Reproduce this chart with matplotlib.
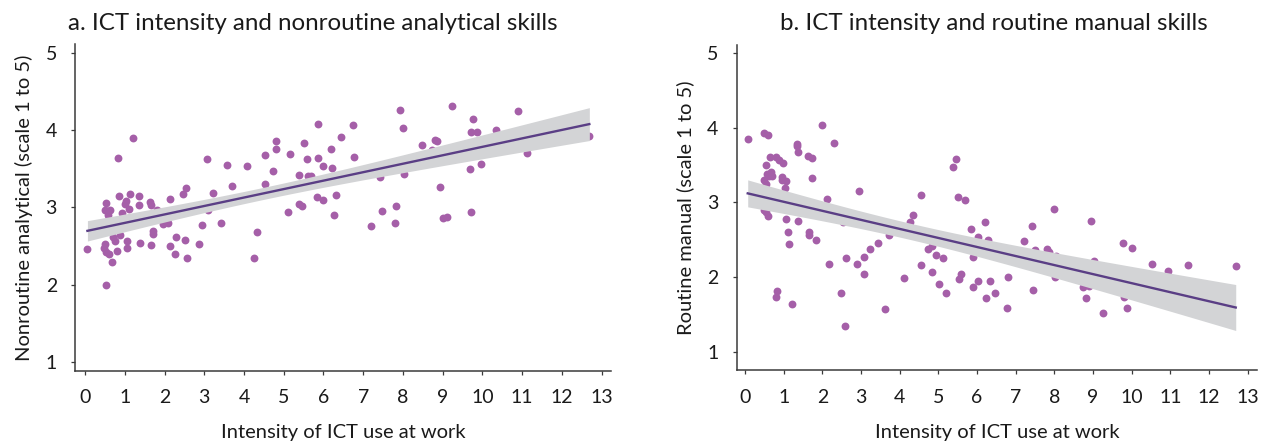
import numpy as np
import matplotlib
matplotlib.use("Agg")
import matplotlib.pyplot as plt

plt.rcParams["font.family"] = ["Lato", "DejaVu Sans"]

# Panel a: ICT intensity vs nonroutine analytical skills
ict_a = [0.06, 0.54, 0.50, 0.62, 0.57, 0.49, 0.47, 0.54, 0.60, 0.54,
         0.69, 0.70, 0.75, 0.81, 0.82, 0.85, 0.89, 0.92, 1.00, 1.03,
         1.10, 1.05, 1.06, 1.14, 1.20, 1.36, 1.36, 1.38, 1.63, 1.65,
         1.65, 1.71, 1.72, 1.81, 1.96, 2.10, 2.14, 2.14, 2.29, 2.27,
         2.46, 2.53, 2.52, 2.56, 2.86, 2.94, 3.06, 3.09, 3.22, 3.42,
         3.58, 3.70, 4.07, 4.26, 4.32, 4.53, 4.53, 4.72, 4.81, 4.81,
         5.11, 5.15, 5.38, 5.39, 5.46, 5.52, 5.58, 5.61, 5.69, 5.87,
         5.86, 5.83, 6.00, 6.00, 6.19, 6.21, 6.32, 6.26, 6.45, 6.75,
         6.78, 7.19, 7.41, 7.47, 7.80, 7.82, 7.92, 7.99, 8.02, 8.49,
         8.80, 8.86, 8.73, 8.92, 9.01, 9.10, 9.24, 9.68, 9.72, 9.72,
         9.77, 9.86, 9.96, 10.33, 10.90, 11.13, 12.69]
skill_a = [2.46, 3.05, 2.96, 2.96, 2.90, 2.52, 2.47, 2.42, 2.40, 1.99,
           2.29, 2.61, 2.56, 2.44, 3.63, 3.14, 2.64, 2.92, 3.04, 3.08,
           2.98, 2.56, 2.47, 3.17, 3.90, 3.14, 3.03, 2.54, 3.07, 3.03,
           2.51, 2.69, 2.66, 2.97, 2.78, 2.80, 3.11, 2.50, 2.61, 2.39,
           3.17, 3.25, 2.57, 2.34, 2.52, 2.77, 3.62, 2.96, 3.19, 2.79,
           3.54, 3.27, 3.53, 2.34, 2.68, 3.68, 3.30, 3.47, 3.85, 3.75,
           2.94, 3.69, 3.42, 3.04, 3.02, 3.83, 3.62, 3.40, 3.40, 4.08,
           3.63, 3.13, 3.53, 3.09, 3.75, 3.51, 3.16, 2.90, 3.91, 4.06,
           3.65, 2.76, 3.39, 2.95, 2.79, 3.02, 4.26, 4.02, 3.43, 3.80,
           3.87, 3.85, 3.74, 3.26, 2.86, 2.87, 4.31, 3.50, 3.97, 2.94,
           4.14, 3.97, 3.56, 4.00, 4.25, 3.70, 3.92]

# Panel b: ICT intensity vs routine manual skills
ict_b = [0.07, 0.50, 0.59, 0.55, 0.64, 0.48, 0.53, 0.61, 0.67, 0.71,
         0.58, 0.81, 0.89, 0.97, 0.95, 0.96, 1.05, 1.04, 0.50, 0.55,
         0.60, 1.07, 1.11, 1.15, 0.82, 0.81, 1.22, 1.35, 1.35, 1.38,
         1.37, 1.63, 1.74, 1.74, 1.66, 1.66, 1.84, 1.99, 2.29, 2.11,
         2.16, 2.48, 2.59, 2.62, 2.54, 2.89, 2.95, 3.08, 3.08, 3.23,
         3.44, 3.62, 3.72, 4.10, 4.27, 4.34, 4.55, 4.55, 4.74, 4.83,
         4.83, 4.93, 5.02, 5.13, 5.19, 5.39, 5.46, 5.52, 5.69, 5.59,
         5.53, 5.85, 5.89, 5.89, 6.03, 6.02, 6.20, 6.28, 6.24, 6.33,
         6.47, 6.78, 6.81, 7.21, 7.41, 7.50, 7.45, 7.80, 8.00, 8.04,
         8.02, 7.85, 8.75, 8.89, 8.82, 8.94, 9.02, 9.27, 9.77, 10.00,
         9.80, 9.87, 10.52, 10.94, 11.45, 12.69]
skill_b = [3.85, 3.93, 3.90, 3.50, 3.61, 3.30, 3.25, 3.35, 3.41, 3.35,
           3.38, 3.60, 3.56, 3.53, 3.34, 3.30, 3.28, 3.19, 2.89, 2.87,
           2.82, 2.78, 2.60, 2.44, 1.81, 1.73, 1.64, 3.78, 3.75, 3.67,
           2.75, 3.62, 3.59, 3.33, 2.60, 2.56, 2.50, 4.03, 3.80, 3.04,
           2.17, 1.79, 1.34, 2.25, 2.74, 2.17, 3.15, 2.27, 2.04, 2.37,
           2.46, 1.57, 2.56, 1.99, 2.73, 2.83, 3.10, 2.16, 2.38, 2.42,
           2.06, 2.29, 1.91, 2.25, 1.79, 3.47, 3.58, 3.07, 3.03, 2.04,
           1.97, 2.64, 2.27, 1.87, 2.54, 1.94, 2.74, 2.50, 1.72, 1.94,
           1.79, 1.58, 2.00, 2.48, 2.68, 2.36, 1.83, 2.38, 2.91, 2.28,
           2.00, 2.33, 1.87, 1.88, 1.72, 2.75, 2.21, 1.52, 2.46, 2.39,
           1.73, 1.58, 2.17, 2.08, 2.16, 2.15]

titles = ["a. ICT intensity and nonroutine analytical skills",
          "b. ICT intensity and routine manual skills"]
y_labels = ["Nonroutine analytical (scale 1 to 5)",
            "Routine manual (scale 1 to 5)"]
x_label = "Intensity of ICT use at work"
x_ticks = list(range(0, 14))
y_ticks = [1, 2, 3, 4, 5]

POINT = "#a55fa8"
LINE = "#5a3e85"
BAND = "#d3d4d6"
AXIS = "#3a3a3a"
TEXT = "#1a1a1a"


def fit_with_ci(x, y, grid):
    x = np.asarray(x, float)
    y = np.asarray(y, float)
    n = len(x)
    slope, intercept = np.polyfit(x, y, 1)
    resid = y - (intercept + slope * x)
    s = np.sqrt(np.sum(resid ** 2) / (n - 2))
    sxx = np.sum((x - x.mean()) ** 2)
    se = s * np.sqrt(1.0 / n + (grid - x.mean()) ** 2 / sxx)
    fit = intercept + slope * grid
    t = 1.983
    return fit, fit - t * se, fit + t * se


fig = plt.figure(figsize=(12.64, 4.42), dpi=100)
W, H = 1264, 442
panels = [
    dict(x=ict_a, y=skill_a, px=(75.3, 610.8), py=(44, 371),
         xlim=(-0.245, 13.23), ylim=(0.883, 5.11), title_x=313),
    dict(x=ict_b, y=skill_b, px=(736.7, 1257), py=(44.7, 370.3),
         xlim=(-0.215, 13.24), ylim=(0.75, 5.11), title_x=994),
]

for i, p in enumerate(panels):
    left = p["px"][0] / W
    width = (p["px"][1] - p["px"][0]) / W
    bottom = (H - p["py"][1]) / H
    height = (p["py"][1] - p["py"][0]) / H
    ax = fig.add_axes([left, bottom, width, height])

    xs = np.asarray(p["x"])
    ys = np.asarray(p["y"])
    ax.scatter(xs, ys, s=32, color=POINT, linewidths=0, zorder=2)

    grid = np.linspace(xs.min(), xs.max(), 200)
    fit, lo, hi = fit_with_ci(xs, ys, grid)
    ax.fill_between(grid, lo, hi, color=BAND, linewidth=0, zorder=3)
    ax.plot(grid, fit, color=LINE, linewidth=1.7, zorder=4)

    ax.set_xlim(*p["xlim"])
    ax.set_ylim(*p["ylim"])
    ax.set_xticks(x_ticks)
    ax.set_yticks(y_ticks)
    for side in ("top", "right"):
        ax.spines[side].set_visible(False)
    for side in ("left", "bottom"):
        ax.spines[side].set_color(AXIS)
        ax.spines[side].set_linewidth(1.1)
    ax.tick_params(direction="out", length=3.2, width=0.9, color=AXIS,
                   labelsize=14, labelcolor=TEXT)
    ax.tick_params(axis="x", pad=10)
    ax.tick_params(axis="y", pad=10)
    ax.set_xlabel(x_label, fontsize=14.5, color=TEXT, labelpad=13)
    ax.set_ylabel(y_labels[i], fontsize=14.5, color=TEXT, labelpad=9)
    fig.text(p["title_x"] / W, 1 - 23 / H, titles[i], fontsize=17.4,
             color=TEXT, ha="center", va="center")

fig.savefig("out.png", dpi=100)
